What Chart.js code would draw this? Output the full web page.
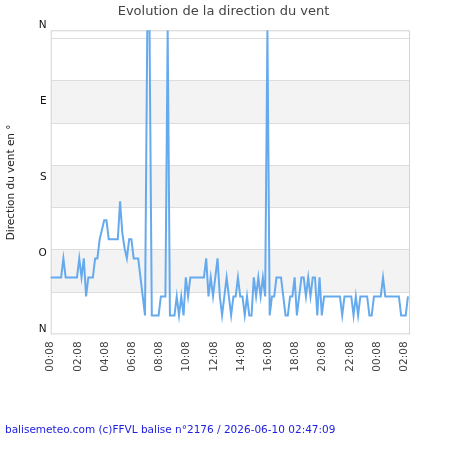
<!DOCTYPE html>
<html>
<head>
<meta charset="utf-8">
<title>Evolution de la direction du vent</title>
<script src="https://cdn.jsdelivr.net/npm/chart.js@4.4.1/dist/chart.umd.min.js"></script>
<style>
    body { margin: 0; background: #fff; }
</style>
</head>
<body>
<canvas id="windDir" width="450" height="450"></canvas>
<script>
// samples every 10 min, first one at 00:04 (minutes since midnight of day 1)
var firstSample = 4;
var sampleStep = 10;

// wind direction in degrees (0 = N, 90 = E, 180 = S, 270 = O)
var directions = [
    292.5, 292.5, 292.5, 292.5, 292.5, 292.5, 270, 292.5, 292.5, 292.5,
    292.5, 292.5, 292.5, 270, 292.5, 270, 315, 292.5, 292.5, 292.5,
    270, 270, 247.5, 236, 225, 225, 247.5, 247.5, 247.5, 247.5,
    247.5, 202.5, 240, 258, 270, 247.5, 247.5, 270, 270, 270,
    292.5, 315, 337.5, 0, 0, 337.5, 337.5, 337.5, 337.5, 315,
    315, 315, 0, 337.5, 337.5, 337.5, 315, 337.5, 315, 337.5,
    292.5, 315, 292.5, 292.5, 292.5, 292.5, 292.5, 292.5, 292.5, 270,
    315, 292.5, 315, 292.5, 270, 315, 337.5, 315, 292.5, 315,
    337.5, 315, 315, 292.5, 315, 315, 337.5, 315, 337.5, 337.5,
    292.5, 315, 292.5, 315, 292.5, 315, 0, 337.5, 315, 315,
    292.5, 292.5, 292.5, 315, 337.5, 337.5, 315, 315, 292.5, 337.5,
    315, 292.5, 292.5, 315, 292.5, 315, 292.5, 292.5, 337.5, 292.5,
    337.5, 315, 315, 315, 315, 315, 315, 315, 315, 337.5,
    315, 315, 315, 315, 337.5, 315, 337.5, 315, 315, 315,
    315, 337.5, 337.5, 315, 315, 315, 315, 292.5, 315, 315,
    315, 315, 315, 315, 315, 337.5, 337.5, 337.5, 315
];

var tickLabels = ['00:08', '02:08', '04:08', '06:08', '08:08', '10:08', '12:08',
                  '14:08', '16:08', '18:08', '20:08', '22:08', '00:08', '02:08'];
var compassTicks = [0, 90, 180, 270, 360];
var compassLabels = ['N', 'E', 'S', 'O', 'N'];
var gridValues = [10, 60, 110, 160, 210, 260, 310];
var bandRanges = [[60, 110], [160, 210], [260, 310]];

var axisStart = 8;
var axisEnd = 1593;

// tick label -> minutes, rolling over midnight
var tickMinutes = [];
var day = 0, last = -1;
tickLabels.forEach(function (lbl) {
    var p = lbl.split(':');
    var m = parseInt(p[0], 10) * 60 + parseInt(p[1], 10);
    if (m < last) day++;
    last = m;
    tickMinutes.push(day * 1440 + m);
});

var points = directions.map(function (d, i) {
    return { x: firstSample + i * sampleStep, y: d };
});

var yTicks = compassTicks.concat(gridValues).sort(function (a, b) { return a - b; });

var frameBands = {
    id: 'frameBands',
    beforeDraw: function (chart) {
        var ctx = chart.ctx, area = chart.chartArea, y = chart.scales.y;
        ctx.save();
        ctx.fillStyle = '#f3f3f3';
        bandRanges.forEach(function (b) {
            var y1 = y.getPixelForValue(b[0]);
            var y2 = y.getPixelForValue(b[1]);
            ctx.fillRect(area.left, Math.min(y1, y2), area.right - area.left, Math.abs(y2 - y1));
        });
        ctx.restore();
    },
    beforeDatasetsDraw: function (chart) {
        var ctx = chart.ctx, area = chart.chartArea;
        ctx.save();
        ctx.strokeStyle = '#d4d4d4';
        ctx.lineWidth = 1;
        ctx.strokeRect(area.left + 0.5, area.top + 0.5, area.right - area.left - 1, area.bottom - area.top - 1);
        ctx.restore();
    }
};

Chart.defaults.font.family = 'DejaVu Sans';
Chart.defaults.animation = false;

var ctx = document.getElementById('windDir').getContext('2d');
var windChart = new Chart(ctx, {
    type: 'line',
    data: {
        datasets: [{
            label: 'Direction',
            data: points,
            borderColor: '#66aaee',
            borderWidth: 2,
            pointRadius: 0,
            tension: 0,
            fill: false
        }]
    },
    options: {
        responsive: false,
        layout: { padding: { left: 5, right: 8, top: 0, bottom: 13 } },
        plugins: {
            legend: { display: false },
            tooltip: { enabled: false },
            title: {
                display: true,
                text: 'Evolution de la direction du vent',
                color: '#444',
                font: { size: 13, weight: 'normal' },
                padding: { top: 3.5, bottom: 11.2 }
            },
            subtitle: {
                display: true,
                position: 'bottom',
                align: 'start',
                text: 'balisemeteo.com (c)FFVL balise n°2176 / 2026-06-10 02:47:09',
                color: '#2020e0',
                font: { size: 10.5, weight: 'normal' },
                padding: { top: 0, bottom: 0 }
            }
        },
        scales: {
            x: {
                type: 'linear',
                min: axisStart,
                max: axisEnd,
                afterBuildTicks: function (scale) {
                    scale.ticks = tickMinutes.map(function (v) { return { value: v }; });
                },
                afterFit: function (scale) { scale.height = 90; },
                grid: { display: false, drawTicks: false },
                border: { display: false },
                ticks: {
                    autoSkip: false,
                    minRotation: 90,
                    maxRotation: 90,
                    padding: 7,
                    color: '#444',
                    font: { size: 10.5 },
                    callback: function (value, index) { return tickLabels[index]; }
                }
            },
            y: {
                type: 'linear',
                reverse: true,
                min: 0,
                max: 360,
                afterBuildTicks: function (scale) {
                    scale.ticks = yTicks.map(function (v) { return { value: v }; });
                },
                afterFit: function (scale) { scale.width = 45.7; },
                border: { display: false },
                grid: {
                    drawTicks: false,
                    color: function (c) {
                        return gridValues.indexOf(c.tick.value) >= 0 ? '#dddddd' : 'rgba(0,0,0,0)';
                    }
                },
                ticks: {
                    autoSkip: false,
                    padding: 4,
                    labelOffset: -5,
                    color: '#111',
                    font: { size: 10.5 },
                    callback: function (value) {
                        var k = compassTicks.indexOf(value);
                        return k >= 0 ? compassLabels[k] : '';
                    }
                },
                title: {
                    display: true,
                    text: 'Direction du vent en °',
                    color: '#222',
                    font: { size: 10.5 },
                    padding: { top: 0, bottom: 0 }
                }
            },
            // empty right-hand axis, only reserves the margin right of the plot
            yRight: {
                type: 'linear',
                position: 'right',
                min: 0,
                max: 360,
                afterFit: function (scale) { scale.width = 32; },
                grid: { display: false, drawTicks: false },
                border: { display: false },
                ticks: { display: false }
            }
        }
    },
    plugins: [frameBands]
});
</script>
</body>
</html>
